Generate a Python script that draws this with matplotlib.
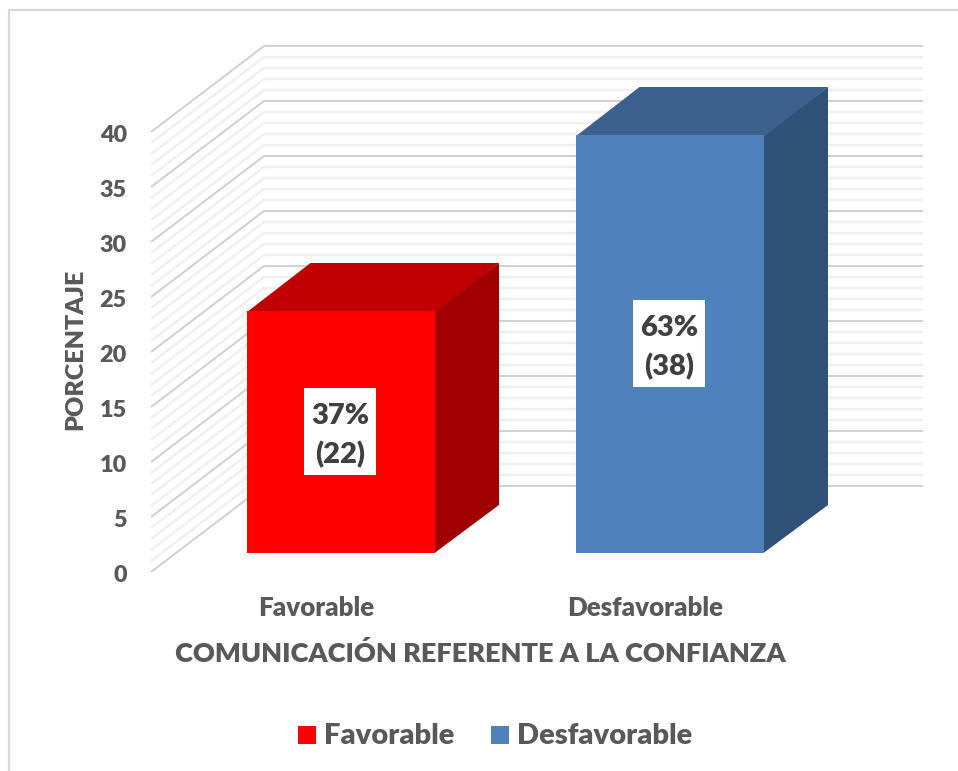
import matplotlib
matplotlib.use('Agg')
import matplotlib.pyplot as plt
from matplotlib.patches import Polygon, Rectangle

plt.rcParams['font.family'] = ['Lato', 'DejaVu Sans']

categories = ['Favorable', 'Desfavorable']
counts = [22, 38]
percents = [37, 63]
y_ticks = [0, 5, 10, 15, 20, 25, 30, 35, 40]
x_title = 'COMUNICACIÓN REFERENTE A LA CONFIANZA'
y_title = 'PORCENTAJE'

front_colors = ['#ff0000', '#4f81bd']
top_colors = ['#c00000', '#3d618f']
side_colors = ['#a00000', '#305278']
text_color = '#595959'
weight = 'heavy'

W, H = 958, 771
UNIT = 11.0        # pixels per value unit
BASE = 553.0       # pixel row of value 0 at the bar fronts


def yval(row):
    # pixel row -> value on the y scale
    return (BASE - row) / UNIT


fig = plt.figure(figsize=(W / 100, H / 100), dpi=100, facecolor='white')
ax = fig.add_axes([0, 0, 1, 1])
ax.set_xlim(0, W)
ax.set_ylim(yval(H), yval(0))
ax.axis('off')

# outer frame, only top and left show
ax.plot([9, 9, W], [yval(H), yval(10), yval(10)], color='#d9d9d9', lw=1.6, zorder=1)

# floor offsets of the walls relative to the bars
wall_front = yval(572)
wall_back = yval(486)
for v in range(0, 41):
    major = v % 5 == 0
    col = '#d0d0d0' if major else '#f0f0f0'
    lw = 1.4 if major else 1.8
    ax.plot([151, 264, 923], [wall_front + v, wall_back + v, wall_back + v],
            color=col, lw=lw, zorder=2 if major else 1.5, solid_capstyle='butt')

# 3D bars
lefts = [247, 576]
bar_w = 188.5
dx, dy = 63.5, 48 / UNIT
for i, cat in enumerate(categories):
    x0 = lefts[i]
    x1 = x0 + bar_w
    v = counts[i]
    ax.add_patch(Polygon([(x1 - 1, 0), (x1 + dx, dy), (x1 + dx, v + dy), (x1 - 1, v)],
                         fc=side_colors[i], ec='none', zorder=3))
    ax.add_patch(Polygon([(x0, v - 0.1), (x0 + dx, v + dy), (x1 + dx, v + dy), (x1, v - 0.1)],
                         fc=top_colors[i], ec='none', zorder=3.5))
    ax.add_patch(Rectangle((x0, 0), bar_w, v, fc=front_colors[i], ec='none', zorder=4))
    # data label in its white box
    cx = (x0 + x1) / 2 - 1.2
    cy = v / 2
    ax.add_patch(Rectangle((cx - 36, cy - 42.5 / UNIT), 72, 87 / UNIT, fc='white', ec='none', zorder=5))
    ax.text(cx, cy - 3.5 / UNIT, f'{percents[i]}%\n({counts[i]})', ha='center', va='center', color='#404040',
            fontsize=21, fontweight=weight, linespacing=1.5, zorder=6)

for v in y_ticks:
    ax.text(127, wall_front + v - 3.5 / UNIT, str(v), ha='right', va='center', color=text_color,
            fontsize=16.8, fontweight=weight)

centers = [316, 645]
for c, cat in zip(centers, categories):
    ax.text(c, yval(608), cat, ha='center', va='center', color=text_color, fontsize=18.6, fontweight=weight)

ax.text(480, yval(654), x_title, ha='center', va='center', color=text_color, fontsize=19.5, fontweight=weight)
ax.text(75, yval(349), y_title, ha='center', va='center', rotation=90, color=text_color,
        fontsize=18, fontweight=weight)

# legend
legend_x = [298.5, 491.5]
for i, cat in enumerate(categories):
    ax.add_patch(Rectangle((legend_x[i], yval(744)), 18, 18 / UNIT, fc=front_colors[i], ec='none'))
    ax.text(legend_x[i] + 26, yval(736), cat, ha='left', va='center', color=text_color,
            fontsize=21, fontweight=weight)

fig.savefig('out.png', dpi=100)
